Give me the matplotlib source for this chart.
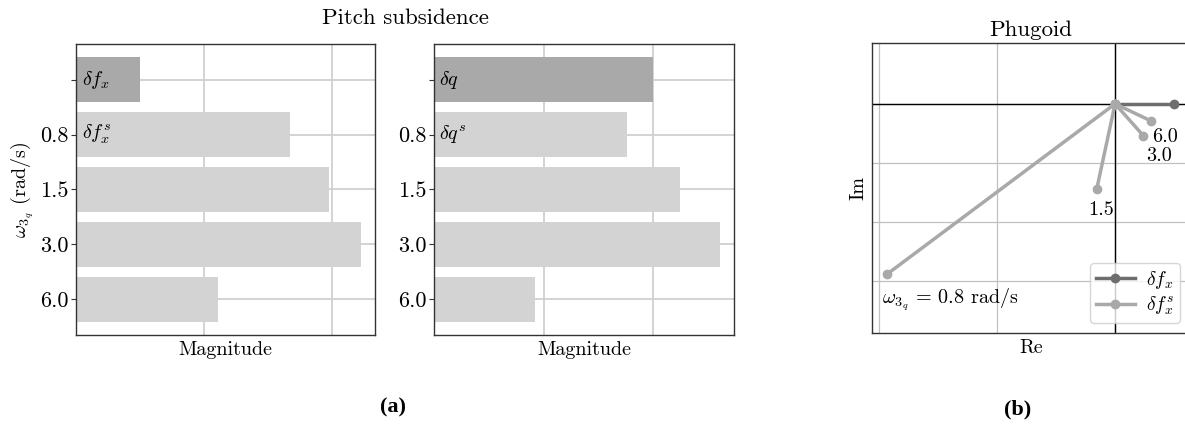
import matplotlib
matplotlib.use("Agg")
import matplotlib.pyplot as plt
import numpy as np

plt.rcParams['font.family'] = 'serif'
plt.rcParams['font.serif'] = ['cmr10']
plt.rcParams['mathtext.fontset'] = 'cm'
plt.rcParams['axes.unicode_minus'] = False

# --- data ---
row_labels = ["", "0.8", "1.5", "3.0", "6.0"]
fx_mag = [0.5]                       # delta f_x
fxs_mag = [1.67, 1.98, 2.23, 1.11]   # delta f_x^s per omega
q_mag = [2.0]                        # delta q
qs_mag = [1.76, 2.24, 2.61, 0.92]    # delta q^s per omega

fx_pole = (1.0, 0.0)
fxs_re = [-3.86, -0.31, 0.48, 0.61]
fxs_im = [-2.88, -1.44, -0.54, -0.29]
omega_labels = [r"$\omega_{3_q}$ = 0.8 rad/s", "1.5", "3.0", "6.0"]

dark = '#a9a9a9'
light = '#d3d3d3'

fig = plt.figure(figsize=(11.85, 4.28), dpi=100)
W, H = 1185., 428.

def px_axes(l, t, r, b):
    return fig.add_axes([l / W, 1 - b / H, (r - l) / W, (b - t) / H])

ax1 = px_axes(76, 44, 375, 335)
ax2 = px_axes(434, 44, 734, 335)
ax3 = px_axes(872, 43, 1190, 333)

fs = 14.5
tfs = 16

def bar_panel(ax, base, smooth, names, xmax):
    ypos = np.arange(len(row_labels))
    ax.barh(ypos[:1], base, height=0.82, color=dark, zorder=2)
    ax.barh(ypos[1:], smooth, height=0.82, color=light, zorder=2)
    ax.set_axisbelow(True)
    ax.grid(True, color='#d0d0d0', lw=1.3)
    ax.set_xticks([1, 2])
    ax.set_xticklabels([])
    ax.tick_params(axis='x', length=0)
    ax.tick_params(axis='y', length=3.5, width=0.8, color='#333333', labelsize=tfs, pad=2)
    ax.set_yticks(ypos)
    ax.set_yticklabels(row_labels)
    ax.set_ylim(4.65, -0.65)
    ax.set_xlim(0, xmax)
    ax.set_xlabel("Magnitude", fontsize=fs, labelpad=1)
    for s in ax.spines.values():
        s.set_color('#333333')
        s.set_linewidth(1.0)
    ax.text(0.05, 0, names[0], fontsize=fs, va='center', ha='left', zorder=3)
    ax.text(0.05, 1, names[1], fontsize=fs, va='center', ha='left', zorder=3)

bar_panel(ax1, fx_mag, fxs_mag, [r"$\delta f_x$", r"$\delta f_x^s$"], 2.336)
bar_panel(ax2, q_mag, qs_mag, [r"$\delta q$", r"$\delta q^s$"], 2.737)
ax1.set_ylabel(r"$\omega_{3_q}$ (rad/s)", fontsize=fs, labelpad=3)

fig.text(405 / W, 1 - 18 / H, "Pitch subsidence", fontsize=16.5, ha='center', va='center')

# --- phugoid root locus ---
ax3.axhline(0, color='black', lw=1.0, zorder=2)
ax3.axvline(0, color='black', lw=1.0, zorder=2)
ax3.set_xticks([-4, -2, 0])
ax3.set_yticks([-3, -2, -1, 0])
ax3.grid(True, color='#c0c0c0', lw=0.9)
ax3.set_xticklabels([])
ax3.set_yticklabels([])
ax3.tick_params(length=0)
ax3.set_xlim(-4.12, 1.27)
ax3.set_ylim(-3.88, 1.03)

ax3.plot([0, fx_pole[0]], [0, fx_pole[1]], '-o', color='#6e6e6e', lw=2.5, ms=6,
         label=r"$\delta f_x$", zorder=3)
for i, (re, im) in enumerate(zip(fxs_re, fxs_im)):
    ax3.plot([0, re], [0, im], '-o', color=dark, lw=2.5, ms=6,
             label=r"$\delta f_x^s$" if i == 0 else None, zorder=4)

offsets = [(-4, -9), (-6, -9), (2, -8), (1, -5)]
for lab, re, im, off in zip(omega_labels, fxs_re, fxs_im, offsets):
    ax3.annotate(lab, (re, im), xytext=off, textcoords='offset points',
                 ha='left', va='top', fontsize=fs, zorder=5)

ax3.legend(loc='lower right', fontsize=14, framealpha=0.8, borderaxespad=0.5,
           labelspacing=0.2, borderpad=0.3, handletextpad=0.6)
ax3.set_xlabel("Re", fontsize=fs, labelpad=1)
ax3.set_ylabel("Im", fontsize=fs, labelpad=0)
ax3.set_title("Phugoid", fontsize=16.5, pad=5)
for s in ax3.spines.values():
    s.set_color('#333333')
    s.set_linewidth(1.0)

fig.text(393 / W, 1 - 407 / H, "(a)", fontsize=16, fontweight='bold',
         family=['Liberation Serif', 'DejaVu Serif'], ha='center', va='center')
fig.text(1018 / W, 1 - 409 / H, "(b)", fontsize=16, fontweight='bold',
         family=['Liberation Serif', 'DejaVu Serif'], ha='center', va='center')

fig.savefig("out.png", dpi=100)
